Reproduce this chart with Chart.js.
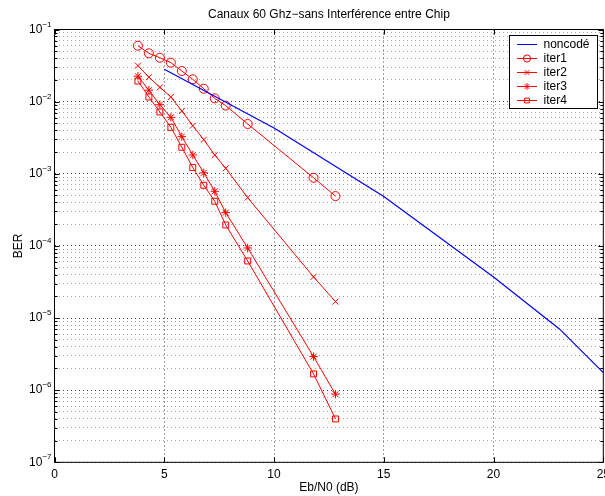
<!DOCTYPE html>
<html>
<head>
<meta charset="utf-8">
<script src="https://cdn.jsdelivr.net/npm/chart.js@4/dist/chart.umd.min.js"></script>
<style>
  html, body { margin: 0; padding: 0; background: #fff; }
  canvas { display: block; }
</style>
</head>
<body>
<canvas id="berChart" width="605" height="496"></canvas>
<script>
// Values
const titleText = 'Canaux 60 Ghz\u2212sans Interf\u00e9rence entre Chip';
const xTicks = [0, 5, 10, 15, 20, 25];
const yDecades = [-7, -6, -5, -4, -3, -2, -1];

const noncodeX = [5, 10, 15, 20, 23, 25];
const noncodeBER = [0.0281, 0.00431, 0.000485, 3.7e-5, 7.06e-6, 1.75e-6];

const iterX = [3.8, 4.3, 4.8, 5.3, 5.8, 6.3, 6.8, 7.3, 7.8, 8.8, 11.8, 12.8];
const iter1 = [0.0596, 0.0468, 0.0406, 0.0347, 0.0266, 0.0204, 0.0151, 0.0111, 0.0088, 0.0049, 0.00088, 0.00049];
const iter2 = [0.0315, 0.0218, 0.0158, 0.0116, 0.00741, 0.00464, 0.00297, 0.00182, 0.00119, 0.000466, 3.72e-5, 1.69e-5];
const iter3 = [0.0225, 0.0144, 0.00907, 0.00607, 0.00327, 0.00182, 0.00103, 0.000571, 0.000289, 9.37e-5, 2.92e-6, 8.8e-7];
const iter4 = [0.0193, 0.0116, 0.00719, 0.00441, 0.00233, 0.00122, 0.000693, 0.000416, 0.000195, 6.18e-5, 1.68e-6, 3.99e-7];

const FONT = '"Liberation Sans", Arial, Helvetica, sans-serif';
const RED = '#ff0000';
const BLUE = '#0000ff';

function toPoints(xs, ys) {
    return xs.map((x, i) => ({ x: x, y: ys[i] }));
}

function iterSet(label, ys, style, radius) {
    return {
        label: label,
        data: toPoints(iterX, ys),
        borderColor: RED,
        borderWidth: 1,
        pointStyle: style,
        pointRadius: radius,
        pointBorderColor: RED,
        pointBackgroundColor: 'rgba(0,0,0,0)',
        pointBorderWidth: 1,
        tension: 0
    };
}

const datasets = [
    {
        label: 'noncod\u00e9',
        data: toPoints(noncodeX, noncodeBER),
        borderColor: BLUE,
        borderWidth: 1.2,
        pointRadius: 0,
        tension: 0
    },
    iterSet('iter1', iter1, 'circle', 4.5),
    iterSet('iter2', iter2, 'crossRot', 4.2),
    iterSet('iter3', iter3, 'star', 4.2),
    iterSet('iter4', iter4, 'rect', 4.2)
];

function isDecade(v) {
    const l = Math.log10(v);
    return Math.abs(l - Math.round(l)) < 1e-6;
}

// MATLAB-like frame, ticks, labels and legend
const matlabFrame = {
    id: 'matlabFrame',
    afterDraw(chart) {
        const ctx = chart.ctx;
        const a = chart.chartArea;
        const xs = chart.scales.x;
        const ys = chart.scales.y;
        ctx.save();

        // box
        ctx.strokeStyle = '#000';
        ctx.lineWidth = 1;
        ctx.strokeRect(a.left, a.top, a.right - a.left, a.bottom - a.top);

        // x ticks (bottom and top)
        ctx.beginPath();
        xTicks.forEach(v => {
            const px = Math.round(xs.getPixelForValue(v)) + 0.5;
            ctx.moveTo(px, a.bottom); ctx.lineTo(px, a.bottom - 5);
            ctx.moveTo(px, a.top); ctx.lineTo(px, a.top + 5);
        });
        // y ticks (left and right)
        ys.ticks.forEach(t => {
            const py = Math.round(ys.getPixelForValue(t.value)) + 0.5;
            const len = isDecade(t.value) ? 5 : 3;
            ctx.moveTo(a.left, py); ctx.lineTo(a.left + len, py);
            ctx.moveTo(a.right, py); ctx.lineTo(a.right - len, py);
        });
        ctx.stroke();

        ctx.fillStyle = '#000';

        // x tick labels
        ctx.font = '12px ' + FONT;
        ctx.textAlign = 'center';
        ctx.textBaseline = 'middle';
        xTicks.forEach(v => {
            ctx.fillText(String(v), xs.getPixelForValue(v), a.bottom + 12);
        });

        // y tick labels 10^k
        yDecades.forEach(k => {
            const py = ys.getPixelForValue(Math.pow(10, k));
            const sup = '\u2212' + Math.abs(k);
            ctx.font = '8px ' + FONT;
            const supW = ctx.measureText(sup).width;
            const baseX = a.left - 3 - supW;
            ctx.textAlign = 'left';
            ctx.textBaseline = 'alphabetic';
            ctx.fillText(sup, baseX, py - 3);
            ctx.font = '12px ' + FONT;
            ctx.textAlign = 'right';
            ctx.textBaseline = 'middle';
            ctx.fillText('10', baseX, py);
        });

        // title and axis titles
        const cx = (a.left + a.right) / 2;
        ctx.font = '12px ' + FONT;
        ctx.textAlign = 'center';
        ctx.textBaseline = 'middle';
        ctx.fillText(titleText, cx, 15);
        ctx.fillText('Eb/N0 (dB)', cx, 488);
        ctx.save();
        ctx.translate(19, (a.top + a.bottom) / 2);
        ctx.rotate(-Math.PI / 2);
        ctx.fillText('BER', 0, 0);
        ctx.restore();

        // legend
        const lx = 509.5, ly = 35.5, lw = 88, lh = 73;
        ctx.fillStyle = '#fff';
        ctx.fillRect(lx, ly, lw, lh);
        ctx.strokeStyle = '#000';
        ctx.strokeRect(lx, ly, lw, lh);
        chart.data.datasets.forEach((ds, i) => {
            const rowY = 44.5 + i * 14;
            ctx.strokeStyle = ds.borderColor;
            ctx.lineWidth = 1;
            ctx.beginPath();
            ctx.moveTo(517, rowY);
            ctx.lineTo(537, rowY);
            ctx.stroke();
            if (ds.pointRadius > 0 && Chart.helpers && Chart.helpers.drawPoint) {
                ctx.strokeStyle = ds.pointBorderColor;
                ctx.fillStyle = 'rgba(0,0,0,0)';
                Chart.helpers.drawPoint(ctx, {
                    pointStyle: ds.pointStyle,
                    rotation: 0,
                    radius: ds.pointRadius * 0.8,
                    borderWidth: 1
                }, 527, rowY);
            }
            ctx.fillStyle = '#000';
            ctx.font = '12px ' + FONT;
            ctx.textAlign = 'left';
            ctx.textBaseline = 'middle';
            ctx.fillText(ds.label, 543.5, rowY);
        });

        ctx.restore();
    }
};

new Chart(document.getElementById('berChart'), {
    type: 'line',
    data: { datasets: datasets },
    options: {
        responsive: false,
        animation: false,
        layout: {
            autoPadding: false,
            padding: { left: 54.5, right: 1.7, top: 29.5, bottom: 33.7 }
        },
        plugins: {
            legend: { display: false },
            title: { display: false },
            tooltip: { enabled: false }
        },
        scales: {
            x: {
                type: 'linear',
                min: 0,
                max: 25,
                afterBuildTicks: scale => {
                    scale.ticks = xTicks.map(v => ({ value: v }));
                },
                afterFit: scale => { scale.height = 0; },
                ticks: { display: false },
                border: { display: false, dash: [1, 3] },
                grid: {
                    drawTicks: false,
                    lineWidth: 1,
                    color: ctx => {
                        const v = ctx.tick ? ctx.tick.value : 0;
                        return (v === 0 || v === 25) ? 'rgba(0,0,0,0)' : 'rgba(0,0,0,0.75)';
                    }
                }
            },
            y: {
                type: 'logarithmic',
                min: 1e-7,
                max: 1e-1,
                afterBuildTicks: scale => {
                    const t = [];
                    yDecades.forEach(k => {
                        for (let m = 1; m <= 9; m++) {
                            if (k === -1 && m > 1) break;
                            t.push({ value: m * Math.pow(10, k) });
                        }
                    });
                    scale.ticks = t;
                },
                afterFit: scale => { scale.width = 0; },
                ticks: { display: false },
                border: { display: false, dash: [1, 3] },
                grid: {
                    drawTicks: false,
                    lineWidth: 1,
                    color: ctx => {
                        const v = ctx.tick ? ctx.tick.value : 1;
                        return isDecade(v) ? 'rgba(0,0,0,0.75)' : 'rgba(0,0,0,0.35)';
                    }
                }
            }
        }
    },
    plugins: [matlabFrame]
});
</script>
</body>
</html>
